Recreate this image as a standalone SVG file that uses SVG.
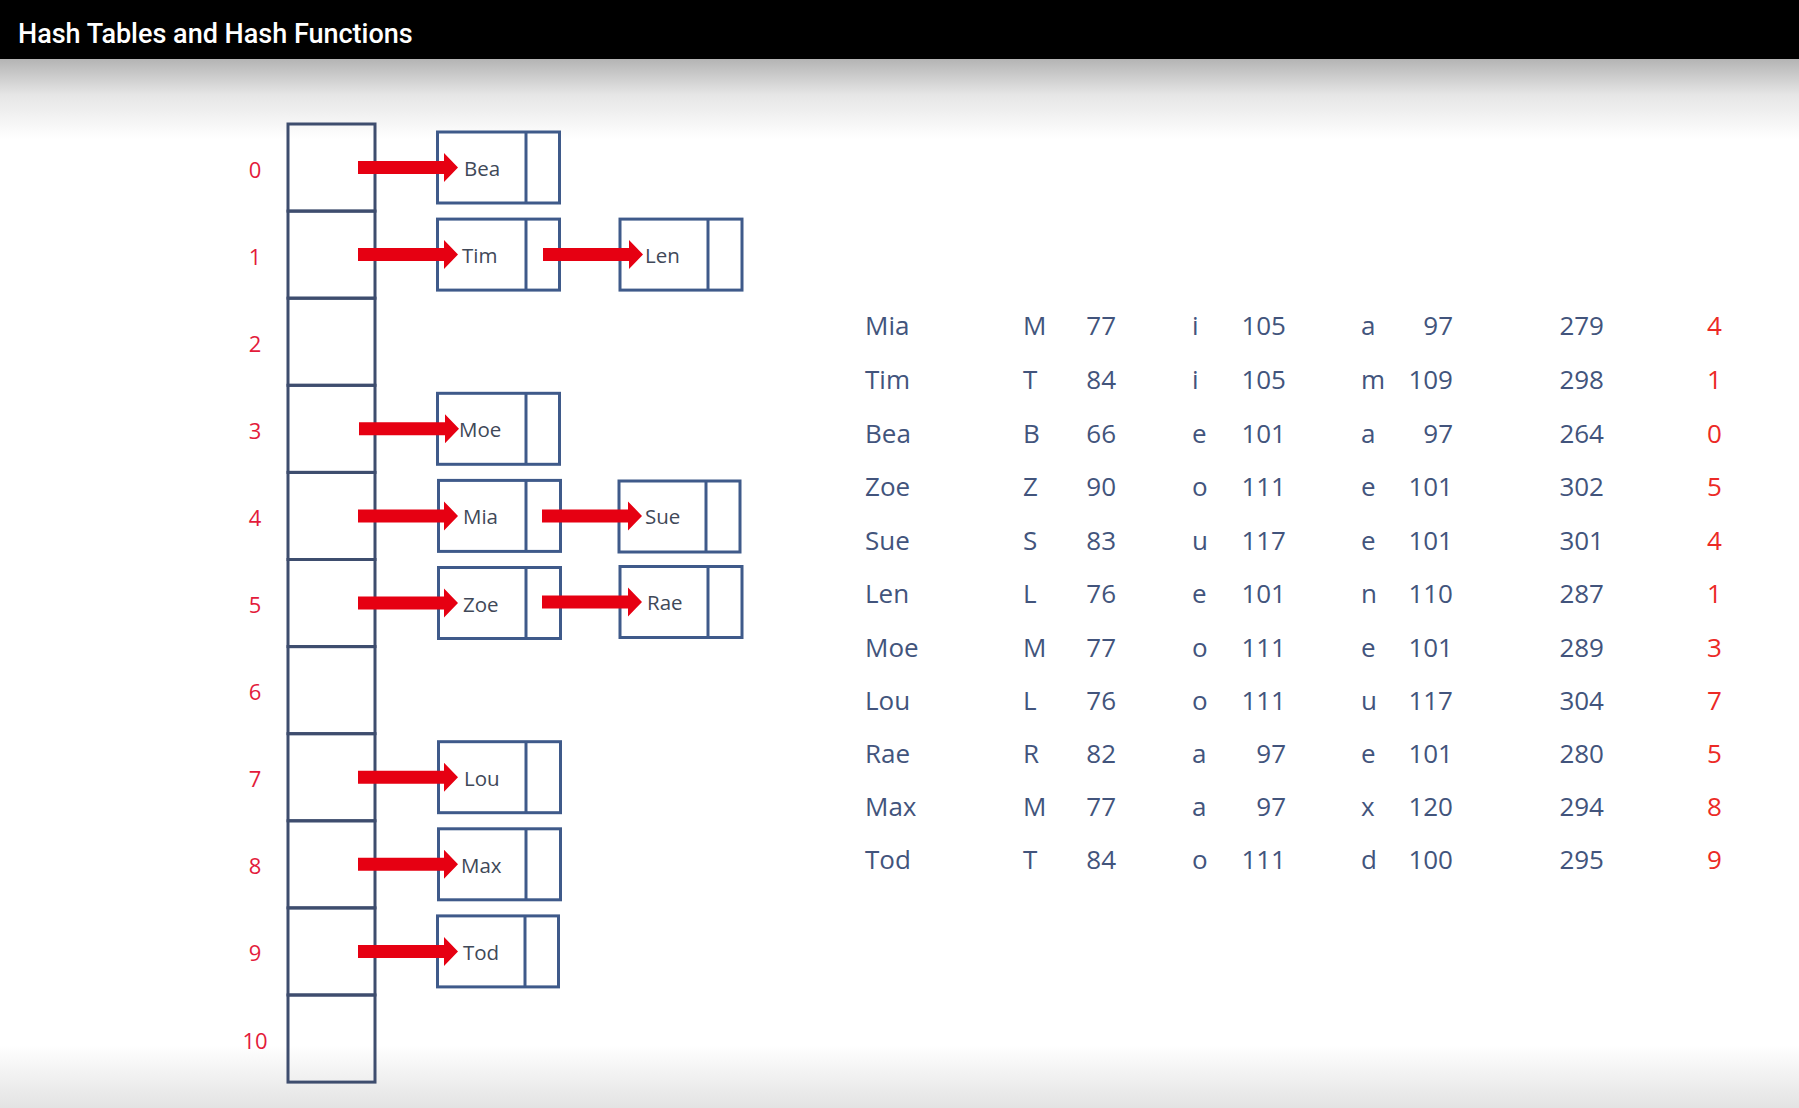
<svg xmlns="http://www.w3.org/2000/svg" xmlns:xlink="http://www.w3.org/1999/xlink" width="1799" height="1108" viewBox="0 0 1799 1108">
<style>
.title{font-family:Roboto,"Liberation Sans",sans-serif;font-size:27px;font-weight:500;fill:#ffffff}
.cell{fill:none;stroke:#3e4d6e;stroke-width:3}
.box{fill:#ffffff;stroke:#3f5a8a;stroke-width:3}
.idx{font-family:"Open Sans","Liberation Sans",sans-serif;font-size:22px;fill:#e31b3b;text-anchor:middle}
.nm{font-family:"Open Sans","Liberation Sans",sans-serif;font-size:20.5px;fill:#404858}
.tb{font-family:"Open Sans","Liberation Sans",sans-serif;font-size:26px;fill:#42547c}
.r{text-anchor:end}
.h{font-family:"Open Sans","Liberation Sans",sans-serif;font-size:26px;fill:#ec2a26}
.arr{fill:#e60012}
</style>
<defs>
<linearGradient id="gtop" x1="0" y1="0" x2="0" y2="1">
<stop offset="0" stop-color="#b4b4b4"/>
<stop offset="0.45" stop-color="#e6e6e6"/>
<stop offset="1" stop-color="#ffffff"/>
</linearGradient>
<linearGradient id="gbot" x1="0" y1="0" x2="0" y2="1">
<stop offset="0" stop-color="#ffffff"/>
<stop offset="1" stop-color="#e3e3e3"/>
</linearGradient>
<path id="arrow" d="M0,-6.5 H86 V-14.5 L100,0 L86,14.5 V6.5 H0 Z"/>
</defs>
<rect x="0" y="0" width="1799" height="1108" fill="#ffffff"/>
<rect x="0" y="59" width="1799" height="80" fill="url(#gtop)"/>
<rect x="0" y="1045" width="1799" height="63" fill="url(#gbot)"/>
<rect x="0" y="0" width="1799" height="59" fill="#000000"/>
<text class="title" x="18" y="43">Hash Tables and Hash Functions</text>

<g id="table">
<rect class="cell" x="288" y="124" width="87" height="87.1"/>
<rect class="cell" x="288" y="211.1" width="87" height="87.1"/>
<rect class="cell" x="288" y="298.2" width="87" height="87.1"/>
<rect class="cell" x="288" y="385.3" width="87" height="87.1"/>
<rect class="cell" x="288" y="472.4" width="87" height="87.1"/>
<rect class="cell" x="288" y="559.5" width="87" height="87.1"/>
<rect class="cell" x="288" y="646.6" width="87" height="87.1"/>
<rect class="cell" x="288" y="733.7" width="87" height="87.1"/>
<rect class="cell" x="288" y="820.8" width="87" height="87.1"/>
<rect class="cell" x="288" y="907.9" width="87" height="87.1"/>
<rect class="cell" x="288" y="995" width="87" height="87.1"/>
<text class="idx" x="255" y="177.5">0</text>
<text class="idx" x="255" y="264.6">1</text>
<text class="idx" x="255" y="351.7">2</text>
<text class="idx" x="255" y="438.8">3</text>
<text class="idx" x="255" y="525.9">4</text>
<text class="idx" x="255" y="613">5</text>
<text class="idx" x="255" y="700.1">6</text>
<text class="idx" x="255" y="787.2">7</text>
<text class="idx" x="255" y="874.3">8</text>
<text class="idx" x="255" y="961.4">9</text>
<text class="idx" x="255" y="1048.5">10</text>
</g>

<g id="node-bea"><rect class="box" x="437.5" y="132" width="122" height="71"/><line class="box" x1="526" y1="132" x2="526" y2="203"/><text class="nm" x="464" y="176">Bea</text></g>
<g id="node-tim"><rect class="box" x="437.5" y="219.1" width="122" height="71"/><line class="box" x1="526" y1="219.1" x2="526" y2="290.1"/><text class="nm" x="462" y="263.1">Tim</text></g>
<g id="node-len"><rect class="box" x="620" y="219.1" width="122" height="71"/><line class="box" x1="708" y1="219.1" x2="708" y2="290.1"/><text class="nm" x="645" y="263.1">Len</text></g>
<g id="node-moe"><rect class="box" x="437.5" y="393.3" width="122" height="71"/><line class="box" x1="526" y1="393.3" x2="526" y2="464.3"/><text class="nm" x="459" y="437.3">Moe</text></g>
<g id="node-mia"><rect class="box" x="438.5" y="480.4" width="122" height="71"/><line class="box" x1="526" y1="480.4" x2="526" y2="551.4"/><text class="nm" x="463" y="524.4">Mia</text></g>
<g id="node-sue"><rect class="box" x="619" y="481" width="121" height="71"/><line class="box" x1="706" y1="481" x2="706" y2="552"/><text class="nm" x="645" y="524.4">Sue</text></g>
<g id="node-zoe"><rect class="box" x="438.5" y="567.5" width="122" height="71"/><line class="box" x1="526" y1="567.5" x2="526" y2="638.5"/><text class="nm" x="463" y="611.5">Zoe</text></g>
<g id="node-rae"><rect class="box" x="620" y="566.5" width="122" height="71"/><line class="box" x1="708" y1="566.5" x2="708" y2="637.5"/><text class="nm" x="647" y="610">Rae</text></g>
<g id="node-lou"><rect class="box" x="438.5" y="741.7" width="122" height="71"/><line class="box" x1="526" y1="741.7" x2="526" y2="812.7"/><text class="nm" x="464" y="785.7">Lou</text></g>
<g id="node-max"><rect class="box" x="438.5" y="828.8" width="122" height="71"/><line class="box" x1="526" y1="828.8" x2="526" y2="899.8"/><text class="nm" x="461" y="872.8">Max</text></g>
<g id="node-tod"><rect class="box" x="437.5" y="915.9" width="121" height="71"/><line class="box" x1="525" y1="915.9" x2="525" y2="986.9"/><text class="nm" x="463" y="959.9">Tod</text></g>

<g id="connectors" class="arr">
<use xlink:href="#arrow" x="358" y="167.5"/>
<use xlink:href="#arrow" x="358" y="254.6"/>
<use xlink:href="#arrow" x="543" y="254.6"/>
<use xlink:href="#arrow" x="359" y="428.8"/>
<use xlink:href="#arrow" x="358" y="515.9"/>
<use xlink:href="#arrow" x="542" y="515.9"/>
<use xlink:href="#arrow" x="358" y="603"/>
<use xlink:href="#arrow" x="542" y="602"/>
<use xlink:href="#arrow" x="358" y="777.2"/>
<use xlink:href="#arrow" x="358" y="864.3"/>
<use xlink:href="#arrow" x="358" y="951.4"/>
</g>

<g id="hash-table-data" class="tb">
<g><text x="865" y="335">Mia</text><text x="1023" y="335">M</text><text class="r" x="1116" y="335">77</text><text x="1192" y="335">i</text><text class="r" x="1286" y="335">105</text><text x="1361" y="335">a</text><text class="r" x="1453" y="335">97</text><text class="r" x="1604" y="335">279</text><text class="h" x="1707" y="335">4</text></g>
<g><text x="865" y="389">Tim</text><text x="1023" y="389">T</text><text class="r" x="1116" y="389">84</text><text x="1192" y="389">i</text><text class="r" x="1286" y="389">105</text><text x="1361" y="389">m</text><text class="r" x="1453" y="389">109</text><text class="r" x="1604" y="389">298</text><text class="h" x="1707" y="389">1</text></g>
<g><text x="865" y="442.5">Bea</text><text x="1023" y="442.5">B</text><text class="r" x="1116" y="442.5">66</text><text x="1192" y="442.5">e</text><text class="r" x="1286" y="442.5">101</text><text x="1361" y="442.5">a</text><text class="r" x="1453" y="442.5">97</text><text class="r" x="1604" y="442.5">264</text><text class="h" x="1707" y="442.5">0</text></g>
<g><text x="865" y="496">Zoe</text><text x="1023" y="496">Z</text><text class="r" x="1116" y="496">90</text><text x="1192" y="496">o</text><text class="r" x="1286" y="496">111</text><text x="1361" y="496">e</text><text class="r" x="1453" y="496">101</text><text class="r" x="1604" y="496">302</text><text class="h" x="1707" y="496">5</text></g>
<g><text x="865" y="549.5">Sue</text><text x="1023" y="549.5">S</text><text class="r" x="1116" y="549.5">83</text><text x="1192" y="549.5">u</text><text class="r" x="1286" y="549.5">117</text><text x="1361" y="549.5">e</text><text class="r" x="1453" y="549.5">101</text><text class="r" x="1604" y="549.5">301</text><text class="h" x="1707" y="549.5">4</text></g>
<g><text x="865" y="603">Len</text><text x="1023" y="603">L</text><text class="r" x="1116" y="603">76</text><text x="1192" y="603">e</text><text class="r" x="1286" y="603">101</text><text x="1361" y="603">n</text><text class="r" x="1453" y="603">110</text><text class="r" x="1604" y="603">287</text><text class="h" x="1707" y="603">1</text></g>
<g><text x="865" y="656.5">Moe</text><text x="1023" y="656.5">M</text><text class="r" x="1116" y="656.5">77</text><text x="1192" y="656.5">o</text><text class="r" x="1286" y="656.5">111</text><text x="1361" y="656.5">e</text><text class="r" x="1453" y="656.5">101</text><text class="r" x="1604" y="656.5">289</text><text class="h" x="1707" y="656.5">3</text></g>
<g><text x="865" y="709.5">Lou</text><text x="1023" y="709.5">L</text><text class="r" x="1116" y="709.5">76</text><text x="1192" y="709.5">o</text><text class="r" x="1286" y="709.5">111</text><text x="1361" y="709.5">u</text><text class="r" x="1453" y="709.5">117</text><text class="r" x="1604" y="709.5">304</text><text class="h" x="1707" y="709.5">7</text></g>
<g><text x="865" y="763">Rae</text><text x="1023" y="763">R</text><text class="r" x="1116" y="763">82</text><text x="1192" y="763">a</text><text class="r" x="1286" y="763">97</text><text x="1361" y="763">e</text><text class="r" x="1453" y="763">101</text><text class="r" x="1604" y="763">280</text><text class="h" x="1707" y="763">5</text></g>
<g><text x="865" y="816">Max</text><text x="1023" y="816">M</text><text class="r" x="1116" y="816">77</text><text x="1192" y="816">a</text><text class="r" x="1286" y="816">97</text><text x="1361" y="816">x</text><text class="r" x="1453" y="816">120</text><text class="r" x="1604" y="816">294</text><text class="h" x="1707" y="816">8</text></g>
<g><text x="865" y="869">Tod</text><text x="1023" y="869">T</text><text class="r" x="1116" y="869">84</text><text x="1192" y="869">o</text><text class="r" x="1286" y="869">111</text><text x="1361" y="869">d</text><text class="r" x="1453" y="869">100</text><text class="r" x="1604" y="869">295</text><text class="h" x="1707" y="869">9</text></g>
</g>
</svg>
